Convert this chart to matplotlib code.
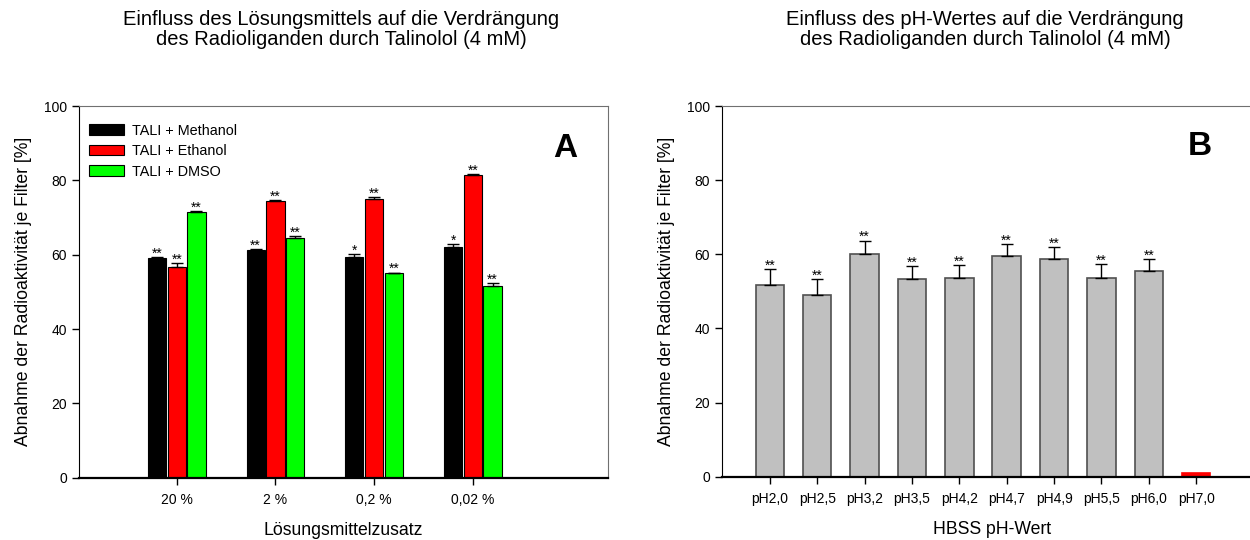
import matplotlib
matplotlib.use("Agg")
import matplotlib.pyplot as plt
import numpy as np

plt.rcParams["font.family"] = ["Liberation Sans", "DejaVu Sans"]

# ---------------------------------------------------------------------------
# Data
# ---------------------------------------------------------------------------

# Panel A: solvent additive
solvent_levels = ["20 %", "2 %", "0,2 %", "0,02 %"]
methanol_mean = [59.2, 61.2, 59.4, 62.0]
methanol_err = [0.2, 0.2, 0.7, 0.8]
methanol_sig = ["**", "**", "*", "*"]
ethanol_mean = [56.6, 74.5, 75.0, 81.4]
ethanol_err = [1.1, 0.3, 0.4, 0.35]
ethanol_sig = ["**", "**", "**", "**"]
dmso_mean = [71.5, 64.5, 55.1, 51.5]
dmso_err = [0.2, 0.5, 0.1, 0.8]
dmso_sig = ["**", "**", "**", "**"]

# Panel B: HBSS pH value
ph_labels = ["pH2,0", "pH2,5", "pH3,2", "pH3,5", "pH4,2",
             "pH4,7", "pH4,9", "pH5,5", "pH6,0", "pH7,0"]
ph_mean = [51.7, 49.1, 60.1, 53.2, 53.7, 59.6, 58.6, 53.5, 55.4, 1.0]
ph_err = [4.3, 4.3, 3.6, 3.6, 3.4, 3.2, 3.3, 3.8, 3.4, 0.0]
ph_sig = ["**"] * 9 + [""]

YLABEL = "Abnahme der Radioaktivität je Filter [%]"
LABEL_SIZE = 12.7


def _style_axes(ax):
    ax.set_ylim(0, 100)
    ax.set_yticks([0, 20, 40, 60, 80, 100])
    ax.tick_params(axis="both", direction="out", length=5, width=1,
                   labelsize=10, top=False, right=False)
    ax.tick_params(axis="x", pad=6)
    ax.spines["left"].set_color("black")
    ax.spines["bottom"].set_color("black")
    ax.spines["bottom"].set_linewidth(1.6)
    ax.spines["top"].set_color("#707070")
    ax.spines["right"].set_color("#707070")
    ax.set_ylabel(YLABEL, fontsize=LABEL_SIZE, labelpad=9)


def _stars(ax, x, tops, errs, sig, size=10):
    for xi, t, e, s in zip(x, tops, errs, sig):
        if s:
            ax.text(xi, t + e - 1.0, s, ha="center", va="bottom", fontsize=size)


fig = plt.figure(figsize=(12.5, 5.4), dpi=100)

# ---------------------------------------------------------------------------
# Panel A
# ---------------------------------------------------------------------------
ax_a = fig.add_axes([0.0632, 0.1154, 0.4232, 0.6883])
x = np.arange(len(solvent_levels))
w = 0.185
step = 0.2
series = [
    (methanol_mean, methanol_err, methanol_sig, "black", "TALI + Methanol"),
    (ethanol_mean, ethanol_err, ethanol_sig, "#ff0000", "TALI + Ethanol"),
    (dmso_mean, dmso_err, dmso_sig, "#00ff00", "TALI + DMSO"),
]
for i, (mean, err, sig, col, lab) in enumerate(series):
    xs = x + (i - 1) * step
    ax_a.bar(xs, mean, width=w, color=col, edgecolor="black",
             linewidth=0.8, label=lab, zorder=2)
    ax_a.errorbar(xs, mean, yerr=[np.zeros(len(err)), err], fmt="none",
                  ecolor="black", elinewidth=1, capsize=4.5, capthick=1, zorder=3)
    _stars(ax_a, xs, mean, err, sig)

ax_a.set_xlim(-0.99, 4.37)
ax_a.set_xticks(x)
ax_a.set_xticklabels(solvent_levels)
_style_axes(ax_a)
ax_a.set_xlabel("Lösungsmittelzusatz", fontsize=LABEL_SIZE, labelpad=11)
ax_a.legend(loc="upper left", frameon=False, fontsize=10.4,
            handlelength=2.4, handleheight=0.75, handletextpad=0.6,
            labelspacing=0.45, borderaxespad=0.3,
            bbox_to_anchor=(0.0, 0.98))
ax_a.text(0.919, 0.885, "A", transform=ax_a.transAxes, ha="center", va="center",
          fontsize=24, fontweight="bold")

# ---------------------------------------------------------------------------
# Panel B
# ---------------------------------------------------------------------------
ax_b = fig.add_axes([0.5776, 0.1172, 0.4324, 0.6865])
xb = np.arange(len(ph_labels))
colors_b = ["#c0c0c0"] * 9 + ["#ff0000"]
edges_b = ["#505050"] * 9 + ["#ff0000"]
ax_b.bar(xb, ph_mean, width=0.6, color=colors_b, edgecolor=edges_b,
         linewidth=1.2, zorder=2)
ax_b.errorbar(xb[:9], ph_mean[:9], yerr=[np.zeros(9), ph_err[:9]], fmt="none",
              ecolor="black", elinewidth=1, capsize=4, capthick=1, zorder=3)
_stars(ax_b, xb, ph_mean, ph_err, ph_sig)

ax_b.set_xlim(-1.01, 10.4)
ax_b.set_xticks(xb)
ax_b.set_xticklabels(ph_labels)
_style_axes(ax_b)
ax_b.set_xlabel("HBSS pH-Wert", fontsize=LABEL_SIZE, labelpad=11)
ax_b.text(0.884, 0.89, "B", transform=ax_b.transAxes, ha="center", va="center",
          fontsize=24, fontweight="bold")

# Panel titles
fig.text(0.2728, 0.945,
         "Einfluss des Lösungsmittels auf die Verdrängung\n"
         "des Radioliganden durch Talinolol (4 mM)",
         ha="center", va="center", fontsize=14.5, linespacing=1.1)
fig.text(0.788, 0.945,
         "Einfluss des pH-Wertes auf die Verdrängung\n"
         "des Radioliganden durch Talinolol (4 mM)",
         ha="center", va="center", fontsize=14.5, linespacing=1.1)

fig.savefig("out.png", dpi=100)
